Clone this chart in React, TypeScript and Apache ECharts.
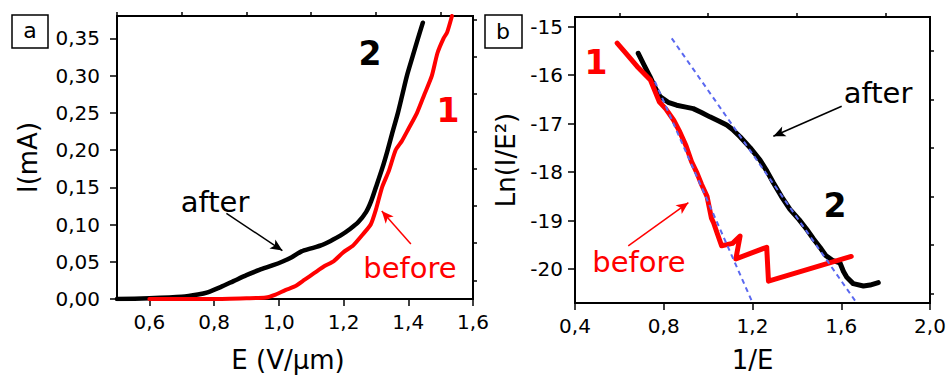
import React, { useEffect, useRef } from "react";
import * as echarts from "echarts";

// Panel a: I(mA) vs E (V/µm)
const afterE = [0.5, 0.6, 0.7, 0.75, 0.78, 0.82, 0.86, 0.9, 0.94, 0.98, 1.01, 1.04, 1.07, 1.1, 1.13, 1.16, 1.19, 1.22, 1.245, 1.27, 1.285, 1.3, 1.32, 1.335, 1.35, 1.368, 1.382, 1.396, 1.413, 1.43, 1.445];
const afterI = [0.0, 0.001, 0.003, 0.006, 0.009, 0.016, 0.024, 0.032, 0.039, 0.045, 0.05, 0.056, 0.064, 0.068, 0.072, 0.078, 0.085, 0.094, 0.103, 0.117, 0.131, 0.15, 0.176, 0.198, 0.222, 0.25, 0.275, 0.3, 0.325, 0.35, 0.371];
const beforeE = [0.6, 0.7, 0.8, 0.9, 0.96, 0.99, 1.02, 1.05, 1.08, 1.11, 1.14, 1.17, 1.2, 1.23, 1.26, 1.284, 1.3, 1.319, 1.34, 1.361, 1.38, 1.4, 1.427, 1.45, 1.473, 1.49, 1.509, 1.52, 1.535];
const beforeI = [0.0, 0.0, 0.0, 0.001, 0.002, 0.006, 0.012, 0.017, 0.026, 0.035, 0.044, 0.051, 0.063, 0.072, 0.087, 0.1, 0.12, 0.15, 0.172, 0.2, 0.212, 0.228, 0.25, 0.275, 0.3, 0.33, 0.35, 0.358, 0.38];

// Panel b: Ln(I/E^2) vs 1/E
const lnAfterX = [0.685, 0.71, 0.738, 0.76, 0.783, 0.82, 0.858, 0.9, 0.933, 0.97, 1.008, 1.05, 1.084, 1.11, 1.144, 1.19, 1.234, 1.265, 1.294, 1.33, 1.369, 1.41, 1.444, 1.475, 1.504, 1.53, 1.56, 1.594, 1.61, 1.625, 1.654, 1.7, 1.73, 1.767];
const lnAfterY = [-15.55, -15.78, -16.03, -16.25, -16.44, -16.56, -16.62, -16.66, -16.69, -16.77, -16.86, -16.95, -17.03, -17.12, -17.27, -17.5, -17.75, -17.98, -18.22, -18.5, -18.77, -18.98, -19.18, -19.38, -19.55, -19.72, -19.82, -19.87, -20.05, -20.17, -20.3, -20.35, -20.33, -20.28];
const lnBeforeX = [0.59, 0.63, 0.68, 0.74, 0.78, 0.81, 0.845, 0.87, 0.9, 0.925, 0.95, 0.97, 0.995, 1.015, 1.025, 1.04, 1.061, 1.11, 1.144, 1.125, 1.264, 1.272, 1.645];
const lnBeforeY = [-15.34, -15.55, -15.82, -16.1, -16.55, -16.7, -16.93, -17.15, -17.45, -17.78, -18.02, -18.25, -18.5, -18.95, -19.05, -19.25, -19.52, -19.47, -19.32, -19.79, -19.55, -20.25, -19.74];
const fitAfterX = [0.836, 1.662];
const fitAfterY = [-15.24, -20.65];
const fitBeforeX = [0.76, 1.196];
const fitBeforeY = [-16.13, -20.65];

// Ticks
const aXTicks = [0.6, 0.8, 1.0, 1.2, 1.4, 1.6];
const aXMinor = [0.5, 0.7, 0.9, 1.1, 1.3, 1.5];
const aYTicks = [0, 0.05, 0.1, 0.15, 0.2, 0.25, 0.3, 0.35];
const aYMinor = [0.025, 0.075, 0.125, 0.175, 0.225, 0.275, 0.325, 0.375];
const bXTicks = [0.4, 0.8, 1.2, 1.6, 2.0];
const bXMinor = [0.6, 1.0, 1.4, 1.8];
const bYTicks = [-20, -19, -18, -17, -16, -15];
const bYMinor = [-20.5, -19.5, -18.5, -17.5, -16.5, -15.5];

const FONT = "DejaVu Sans, Verdana, sans-serif";
const zip = (xs: number[], ys: number[]) => xs.map((x, i) => [x, ys[i]]);
const comma = (n: number) => (v: number) => v.toFixed(n).replace(".", ",");

function mainAxis(gridIndex: number, min: number, max: number, ticks: number[], fmt: (v: number) => string, margin: number, name: string, nameGap: number, namePadding: number[] = [0, 0, 0, 0]) {
  return {
    type: "value",
    gridIndex,
    min,
    max,
    name,
    nameLocation: "middle",
    nameGap,
    nameTextStyle: { fontFamily: FONT, fontSize: 26, color: "#000", padding: namePadding },
    axisLine: { show: true, onZero: false, lineStyle: { color: "#000", width: 2 } },
    axisTick: { show: true, inside: false, length: 7, customValues: ticks, lineStyle: { color: "#000", width: 1.5 } },
    axisLabel: { show: true, customValues: ticks, formatter: fmt, margin, fontFamily: FONT, fontSize: 20, color: "#000" },
    splitLine: { show: false },
  };
}
function minorAxis(gridIndex: number, min: number, max: number, ticks: number[]) {
  return {
    type: "value",
    gridIndex,
    min,
    max,
    axisLine: { show: false, onZero: false },
    axisTick: { show: true, inside: false, length: 4, customValues: ticks, lineStyle: { color: "#000", width: 1.5 } },
    axisLabel: { show: false },
    splitLine: { show: false },
  };
}

function arrow(x1: number, y1: number, x2: number, y2: number, color: string) {
  return {
    silent: true,
    symbol: ["none", "arrow"],
    symbolSize: [8, 12],
    label: { show: false },
    lineStyle: { color, width: 1.5, type: "solid" },
    data: [[{ coord: [x1, y1] }, { coord: [x2, y2] }]],
  };
}

function txt(x: number, y: number, text: string, color: string, size: number, bold = false) {
  return {
    type: "text",
    x,
    y,
    style: { text, fill: color, font: `${bold ? "bold " : ""}${size}px ${FONT}`, align: "center", verticalAlign: "middle" },
  };
}

export default function App() {
  const ref = useRef<HTMLDivElement>(null);
  useEffect(() => {
    const chart = echarts.init(ref.current!, null, { renderer: "svg" });
    chart.setOption({
      animation: false,
      backgroundColor: "#fff",
      grid: [
        { left: 117, top: 16, width: 356, height: 288, show: true, borderColor: "#000", borderWidth: 2, backgroundColor: "transparent" },
        { left: 575, top: 17, width: 355, height: 286, show: true, borderColor: "#000", borderWidth: 2, backgroundColor: "transparent" },
      ],
      xAxis: [
        mainAxis(0, 0.5, 1.6, aXTicks, comma(1), 13, "E (V/\u03bcm)", 48, [0, 14, 0, 0]),
        mainAxis(1, 0.4, 2.0, bXTicks, comma(1), 13, "1/E", 44),
        minorAxis(0, 0.5, 1.6, aXMinor),
        minorAxis(1, 0.4, 2.0, bXMinor),
      ],
      yAxis: [
        mainAxis(0, 0, 0.38, aYTicks, comma(2), 17, "I(mA)", 76),
        mainAxis(1, -20.7, -14.8, bYTicks, (v: number) => String(v), 12, "Ln(I/E\u00b2)", 56),
        minorAxis(0, 0, 0.38, aYMinor),
        minorAxis(1, -20.7, -14.8, bYMinor),
      ],
      series: [
        {
          type: "line", xAxisIndex: 0, yAxisIndex: 0, data: zip(afterE, afterI), showSymbol: false, symbol: "none", smooth: 0.25,
          lineStyle: { color: "#000", width: 4.5, cap: "round", join: "round" },
          markLine: arrow(0.838, 0.115, 1.011, 0.065, "#000"),
        },
        {
          type: "line", xAxisIndex: 0, yAxisIndex: 0, data: zip(beforeE, beforeI), showSymbol: false, symbol: "none", smooth: 0.2,
          lineStyle: { color: "#ff0000", width: 4, cap: "round", join: "round" },
          markLine: arrow(1.408, 0.074, 1.318, 0.118, "#ff0000"),
        },
        {
          type: "line", xAxisIndex: 1, yAxisIndex: 1, data: zip(lnAfterX, lnAfterY), showSymbol: false, symbol: "none",
          lineStyle: { color: "#000", width: 5, cap: "round", join: "round" },
          markLine: arrow(1.602, -16.64, 1.294, -17.26, "#000"),
        },
        {
          type: "line", xAxisIndex: 1, yAxisIndex: 1, data: zip(lnBeforeX, lnBeforeY), showSymbol: false, symbol: "none",
          lineStyle: { color: "#ff0000", width: 5, cap: "round", join: "round" },
          markLine: arrow(0.64, -19.52, 0.911, -18.63, "#ff0000"),
        },
        {
          type: "line", xAxisIndex: 1, yAxisIndex: 1, data: zip(fitAfterX, fitAfterY), showSymbol: false, symbol: "none",
          lineStyle: { color: "#5a68f0", width: 2, type: [5, 4] },
        },
        {
          type: "line", xAxisIndex: 1, yAxisIndex: 1, data: zip(fitBeforeX, fitBeforeY), showSymbol: false, symbol: "none",
          lineStyle: { color: "#5a68f0", width: 2, type: [5, 4] },
        },
      ],
      graphic: [
        { type: "rect", shape: { x: 12, y: 15, width: 36, height: 33 }, style: { fill: "none", stroke: "#000", lineWidth: 1.5 } },
        txt(30, 30, "a", "#000", 22),
        { type: "rect", shape: { x: 485, y: 15, width: 37, height: 33 }, style: { fill: "none", stroke: "#000", lineWidth: 1.5 } },
        txt(503, 31, "b", "#000", 22),
        txt(370, 53, "2", "#000", 33, true),
        txt(448, 110, "1", "#ff0000", 33, true),
        txt(215, 202, "after", "#000", 29),
        txt(410, 268, "before", "#ff0000", 29),
        txt(596, 62, "1", "#ff0000", 33, true),
        txt(835, 205, "2", "#000", 33, true),
        txt(878, 93, "after", "#000", 29),
        txt(639, 262, "before", "#ff0000", 29),
      ],
    });
    return () => chart.dispose();
  }, []);
  return <div ref={ref} style={{ position: "absolute", left: 0, top: 0, width: 949, height: 378 }} />;
}
